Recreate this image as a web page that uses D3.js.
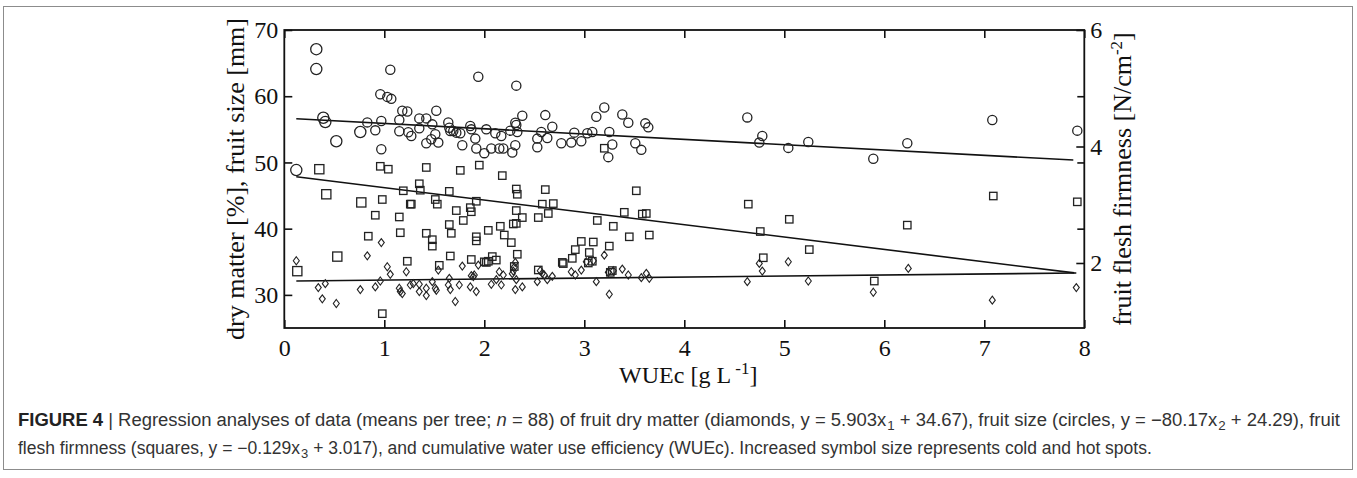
<!DOCTYPE html>
<html>
<head>
<meta charset="utf-8">
<script src="https://cdn.jsdelivr.net/npm/d3@7"></script>
<style>
  body { margin: 0; background: #fff; }
  svg { display: block; }
</style>
</head>
<body>
<svg id="fig" width="1357" height="478"></svg>
<script>

// fruit size [mm] (circles): [WUEc, size, spot]
const fruitSize = [
  [0.12,48.85,1],[0.32,67.1,1],[0.32,64.1,1],[0.39,56.75,1],[0.41,56.1,1],[0.52,53.2,1],[0.76,54.6,1],
  [0.83,56.05],[0.91,54.85],[0.96,60.3],[0.97,56.25],[0.97,52.0],[1.03,59.9],[1.06,64.0],[1.07,59.6],
  [1.15,56.4],[1.15,54.7],[1.18,57.8],[1.23,57.7],[1.24,54.55],[1.27,54.0],[1.35,55.15],[1.35,56.65],
  [1.42,56.65],[1.42,52.9],[1.47,53.5],[1.48,55.75],[1.51,54.25],[1.52,57.8],[1.54,53.0],[1.64,56.05],
  [1.65,55.25],[1.66,54.75],[1.69,54.75],[1.72,54.5],[1.76,54.4],[1.78,52.6],[1.86,55.5],[1.87,55.0],
  [1.91,53.6],[1.92,52.1],[1.94,62.95],[2.0,51.4],[2.02,55.0],[2.07,52.1],[2.11,54.4],[2.15,52.1],
  [2.17,54.0],[2.19,52.1],[2.26,54.8],[2.28,51.5],[2.31,56.0],[2.31,52.6],[2.32,61.6],[2.32,55.65],
  [2.33,54.6],[2.38,57.05],[2.53,53.6],[2.53,52.3],[2.57,54.6],[2.61,57.15],[2.63,53.7],[2.68,55.4],
  [2.77,52.9],[2.87,53.0],[2.90,54.5],[2.97,53.2],[3.03,54.4],[3.08,54.6],[3.12,56.9],[3.20,58.3],
  [3.24,50.8],[3.25,54.6],[3.28,52.7],[3.38,57.25],[3.44,56.0],[3.51,52.9],[3.57,51.9],[3.61,55.9],
  [3.64,55.3],[4.63,56.8],[4.75,53.0],[4.78,54.0],[5.04,52.2],[5.24,53.1],[5.89,50.55],[6.23,52.9],
  [7.08,56.4],[7.93,54.8]
];

// fruit flesh firmness [N/cm-2] (squares, right axis)
const firmness = [
  [0.13,1.86,1],[0.35,3.61,1],[0.42,3.18,1],[0.53,2.11,1],[0.77,3.04,1],[0.84,2.46],[0.91,2.82],
  [0.96,3.66],[0.98,3.09],[0.98,1.13],[1.04,3.61],[1.15,2.79],[1.16,2.52],[1.19,3.24],[1.23,2.03],
  [1.26,3.01],[1.27,3.01],[1.35,3.36],[1.36,3.25],[1.42,3.64],[1.42,2.51],[1.48,2.40],[1.48,2.29],
  [1.51,3.09],[1.53,3.01],[1.55,1.96],[1.65,3.23],[1.65,2.66],[1.66,2.12],[1.67,2.51],[1.72,2.90],
  [1.76,3.59],[1.79,2.73],[1.86,2.95],[1.87,2.88],[1.87,2.06],[1.92,3.06],[1.92,2.45],[1.92,2.38],
  [1.95,3.68],[2.00,2.02],[2.02,2.01],[2.04,2.03],[2.04,2.56],[2.08,2.11],[2.12,2.05],[2.16,2.63],
  [2.18,3.50],[2.20,2.48],[2.27,2.35],[2.29,2.67],[2.30,1.94],[2.32,3.27],[2.33,3.18],[2.32,2.90],
  [2.32,2.68],[2.33,2.15],[2.38,2.78],[2.54,2.78],[2.54,1.88],[2.58,3.01],[2.61,3.26],[2.64,2.85],
  [2.69,3.02],[2.78,2.01],[2.79,1.99],[2.88,2.08],[2.91,2.23],[2.97,2.37],[3.04,2.00],[3.05,2.18],
  [3.08,2.03],[3.09,2.36],[3.13,2.73],[3.20,3.97],[3.25,2.29],[3.26,1.84],[3.28,1.87],[3.29,2.63],
  [3.40,2.87],[3.45,2.45],[3.52,3.24],[3.58,2.84],[3.62,2.85],[3.65,2.48],[4.64,3.01],[4.76,2.54],
  [4.79,2.09],[5.05,2.75],[5.25,2.23],[5.90,1.69],[6.23,2.65],[7.09,3.15],[7.93,3.05]
];

// dry matter [%] (diamonds)
const dryMatter = [
  [0.12,35.15],[0.34,31.1],[0.38,29.4],[0.41,31.7],[0.52,28.7],[0.76,30.8],[0.83,35.9],[0.91,31.2],
  [0.96,32.1],[0.97,37.9],[1.03,34.25],[1.06,33.1],[1.15,31.0],[1.16,30.5],[1.18,30.2],[1.22,33.5],
  [1.26,31.5],[1.29,31.7],[1.35,31.6],[1.35,30.5],[1.42,31.0],[1.42,29.9],[1.48,32.0],[1.51,31.0],
  [1.52,30.7],[1.54,33.75],[1.64,31.5],[1.65,32.5],[1.66,30.8],[1.71,29.0],[1.75,31.5],[1.78,34.35],
  [1.86,31.2],[1.87,32.9],[1.89,32.75],[1.90,33.0],[1.92,30.5],[1.94,34.5],[2.07,31.6],[2.12,32.3],
  [2.15,33.5],[2.17,31.5],[2.19,33.0],[2.28,33.2],[2.29,33.6],[2.30,34.2],[2.31,34.9],[2.31,30.8],
  [2.32,32.3],[2.38,31.2],[2.53,32.0],[2.56,33.65],[2.58,33.25],[2.60,33.0],[2.63,32.3],[2.68,32.8],
  [2.87,33.5],[2.91,33.0],[2.97,33.75],[3.02,35.0],[3.09,35.15],[3.12,32.0],[3.20,36.0],[3.24,33.4],
  [3.25,30.1],[3.29,33.65],[3.38,33.9],[3.44,33.0],[3.57,32.6],[3.62,33.25],[3.65,32.5],[4.63,32.0],
  [4.75,34.75],[4.78,33.6],[5.04,35.0],[5.24,32.1],[5.89,30.4],[6.24,34.0],[7.08,29.2],[7.92,31.1]
];

// regression lines, end points
const sizeFit = [[0.12,56.6],[7.89,50.36]];
const firmFit = [[0.12,3.48],[7.90,1.83]];
const dryFit  = [[0.12,32.1],[7.92,33.3]];

const xTicks = [0,1,2,3,4,5,6,7,8];
const leftTicks = [30,40,50,60,70];
const rightTicks = [2,4,6];

const svg = d3.select("#fig");
const serif = "'Liberation Serif', 'Times New Roman', serif";

// figure box
svg.append("rect")
    .attr("x", 3.5).attr("y", 6.5)
    .attr("width", 1349).attr("height", 463)
    .attr("fill", "none")
    .attr("stroke", "#8c8c8c")
    .attr("stroke-width", 1);

var L = 284.3, R = 1084.3, T = 30, B = 328;

var x = d3.scaleLinear().domain([0, 8]).range([L, R]);
var yL = d3.scaleLinear().domain([25, 70]).range([B, T]);
var yR = d3.scaleLinear().domain([0.884, 6]).range([B, T]);

var plot = svg.append("g");

//axes, ticks pointing in
function styleAxis(g){
    g.select(".domain").remove();
    g.selectAll("line").attr("stroke", "#111").attr("stroke-width", 1.6);
    g.selectAll("text")
        .attr("fill", "#111")
        .style("font-family", serif)
        .style("font-size", "24px");
}

plot.append("g")
    .attr("transform", "translate(0," + B + ")")
    .call(d3.axisBottom(x).tickValues(xTicks).tickSize(-8).tickPadding(11).tickFormat(d3.format("d")))
    .call(styleAxis);

plot.append("g")
    .attr("transform", "translate(0," + T + ")")
    .call(d3.axisTop(x).tickValues(xTicks).tickSize(-8).tickFormat(""))
    .call(styleAxis);

plot.append("g")
    .attr("transform", "translate(" + L + ",0)")
    .call(d3.axisLeft(yL).tickValues(leftTicks).tickSize(-8).tickPadding(6))
    .call(styleAxis);

plot.append("g")
    .attr("transform", "translate(" + R + ",0)")
    .call(d3.axisRight(yR).tickValues(rightTicks).tickSize(-8).tickPadding(6).tickFormat(d3.format("d")))
    .call(styleAxis);

// left ticks mirrored on the right side
plot.append("g")
    .attr("transform", "translate(" + R + ",0)")
    .call(d3.axisRight(yL).tickValues([40, 50, 60]).tickSize(-7).tickFormat(""))
    .call(styleAxis);

plot.append("rect")
    .attr("x", L).attr("y", T)
    .attr("width", R - L).attr("height", B - T)
    .attr("fill", "none")
    .attr("stroke", "#111")
    .attr("stroke-width", 1.8);

// axis titles
svg.append("text")
    .attr("transform", "translate(244," + (T + B) / 2 + ")rotate(-90)")
    .attr("text-anchor", "middle")
    .attr("fill", "#111")
    .style("font-family", serif)
    .style("font-size", "26px")
    .text("dry matter [%], fruit size [mm]");

var rt = svg.append("text")
    .attr("transform", "translate(1131," + (T + B) / 2 + ")rotate(-90)")
    .attr("text-anchor", "middle")
    .attr("fill", "#111")
    .style("font-family", serif)
    .style("font-size", "26px");
rt.append("tspan").text("fruit flesh firmness [N/cm");
rt.append("tspan").attr("dy", -9).style("font-size", "17px").text("-2");
rt.append("tspan").attr("dy", 9).text("]");

var xt = svg.append("text")
    .attr("x", (L + R) / 2 + 4)
    .attr("y", 383)
    .attr("text-anchor", "middle")
    .attr("fill", "#111")
    .style("font-family", serif)
    .style("font-size", "24px");
xt.append("tspan").text("WUEc [g L");
xt.append("tspan").attr("dy", -9).style("font-size", "17px").text(" -1");
xt.append("tspan").attr("dy", 9).text("]");

// regression lines
var line = d3.line();
[[sizeFit, yL], [firmFit, yR], [dryFit, yL]].forEach(function(f){
    plot.append("path")
        .attr("d", line(f[0].map(function(p){ return [x(p[0]), f[1](p[1])]; })))
        .attr("fill", "none")
        .attr("stroke", "#111")
        .attr("stroke-width", 1.6);
});

// markers
plot.selectAll(".circ")
    .data(fruitSize)
    .enter().append("circle")
    .attr("class", "circ")
    .attr("cx", function(d){ return x(d[0]); })
    .attr("cy", function(d){ return yL(d[1]); })
    .attr("r", function(d){ return d[2] ? 5.6 : 4.6; })
    .attr("fill", "none")
    .attr("stroke", "#222")
    .attr("stroke-width", 1.3);

plot.selectAll(".sq")
    .data(firmness)
    .enter().append("rect")
    .attr("class", "sq")
    .attr("x", function(d){ return x(d[0]) - (d[2] ? 4.6 : 3.7); })
    .attr("y", function(d){ return yR(d[1]) - (d[2] ? 4.6 : 3.7); })
    .attr("width", function(d){ return d[2] ? 9.2 : 7.4; })
    .attr("height", function(d){ return d[2] ? 9.2 : 7.4; })
    .attr("fill", "none")
    .attr("stroke", "#222")
    .attr("stroke-width", 1.3);

plot.selectAll(".dia")
    .data(dryMatter)
    .enter().append("path")
    .attr("class", "dia")
    .attr("d", function(d){
        var cx = x(d[0]), cy = yL(d[1]);
        return "M" + cx + "," + (cy - 4) + "L" + (cx + 3) + "," + cy +
               "L" + cx + "," + (cy + 4) + "L" + (cx - 3) + "," + cy + "Z";
    })
    .attr("fill", "none")
    .attr("stroke", "#222")
    .attr("stroke-width", 1.1);

// caption
var sans = "'Liberation Sans Narrow', 'Liberation Sans', Arial, sans-serif";
function sub(t, s){
    t.append("tspan").attr("dy", 4).attr("dx", 1).style("font-size", "13px").text(s);
}
var c1 = svg.append("text")
    .attr("x", 18).attr("y", 426)
    .attr("fill", "#333")
    .attr("textLength", 1322)
    .attr("lengthAdjust", "spacingAndGlyphs")
    .style("font-family", sans)
    .style("font-size", "18px");
c1.append("tspan").style("font-weight", "bold").attr("fill", "#222").text("FIGURE 4");
c1.append("tspan").text(" | Regression analyses of data (means per tree; ");
c1.append("tspan").style("font-style", "italic").text("n");
c1.append("tspan").text(" = 88) of fruit dry matter (diamonds, y = 5.903x");
sub(c1, "1");
c1.append("tspan").attr("dy", -4).text(" + 34.67), fruit size (circles, y = \u221280.17x");
sub(c1, "2");
c1.append("tspan").attr("dy", -4).text(" + 24.29), fruit");

var c2 = svg.append("text")
    .attr("x", 18).attr("y", 454)
    .attr("fill", "#333")
    .style("font-family", sans)
    .style("font-size", "17.5px");
c2.append("tspan").text("flesh firmness (squares, y = \u22120.129x");
sub(c2, "3");
c2.append("tspan").attr("dy", -4).text(" + 3.017), and cumulative water use efficiency (WUEc). Increased symbol size represents cold and hot spots.");

</script>
</body>
</html>
